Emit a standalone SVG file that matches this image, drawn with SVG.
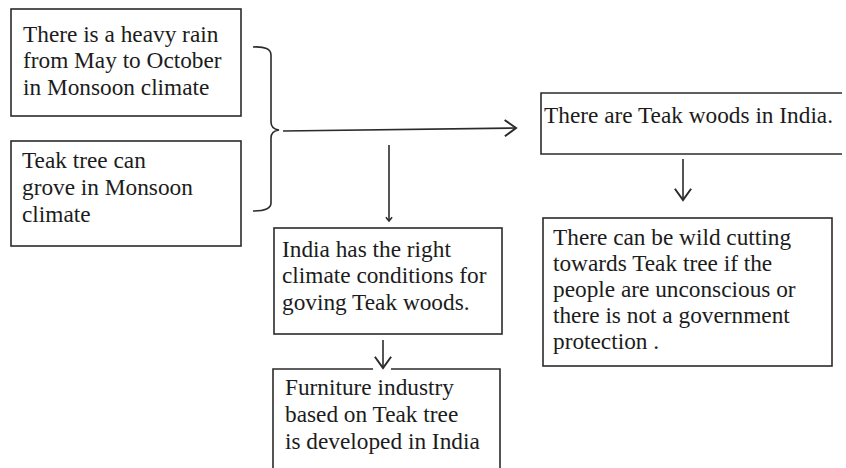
<svg xmlns="http://www.w3.org/2000/svg" width="846" height="468" viewBox="0 0 846 468">
<style>
.box{fill:#fff;stroke:#2b2b2b;stroke-width:1.6}
text{font-family:'Liberation Serif','Tinos','Times New Roman','DejaVu Serif',serif;font-size:23.3px;fill:#1c1c1c}
.c{fill:none;stroke:#2b2b2b;stroke-width:1.6}
</style>
<defs>
<marker id="ah" markerUnits="userSpaceOnUse" markerWidth="20" markerHeight="20" refX="0" refY="0" viewBox="-12 -8 14 16" orient="auto" overflow="visible">
<path d="M-9,-6.5 L0,0 L-9,6.5" fill="none" stroke="#2b2b2b" stroke-width="1.6"/>
</marker>
<marker id="ahs" markerUnits="userSpaceOnUse" markerWidth="10" markerHeight="10" refX="0" refY="0" viewBox="-6 -4 7 8" orient="auto" overflow="visible">
<path d="M-3,-2.5 L0,0 L-3,2.5" fill="none" stroke="#2b2b2b" stroke-width="1.2"/>
</marker>
</defs>
<rect width="846" height="468" fill="#fff"/>
<g id="n1" font-family="Liberation Serif, serif">
<rect class="box" x="11" y="9" width="230" height="107"/>
<text x="23" y="42">There is a heavy rain</text>
<text x="23" y="68">from May to October</text>
<text x="23" y="95">in Monsoon climate</text>
</g>
<g id="n2">
<rect class="box" x="11" y="141" width="230" height="105"/>
<text x="22" y="168">Teak tree can</text>
<text x="22" y="195">grove in Monsoon</text>
<text x="22" y="222">climate</text>
</g>
<g id="n3">
<path class="box" d="M842,93 H541 V154 H842"/>
<text x="544" y="123">There are Teak woods in India.</text>
</g>
<g id="n4">
<rect class="box" x="274" y="228" width="228" height="106"/>
<text x="282" y="257">India has the right</text>
<text x="282" y="283">climate conditions for</text>
<text x="282" y="310">goving Teak woods.</text>
</g>
<g id="n5">
<path class="c" d="M273,469 V369 H373 M391,369 H500 V469"/>
<text x="285" y="395">Furniture industry</text>
<text x="285" y="422">based on Teak tree</text>
<text x="285" y="449">is developed in India</text>
</g>
<g id="n6">
<rect class="box" x="543" y="218" width="289" height="148"/>
<text x="553" y="245">There can be wild cutting</text>
<text x="553" y="271">towards Teak tree if the</text>
<text x="553" y="297">people are unconscious or</text>
<text x="553" y="323">there is not a government</text>
<text x="553" y="349">protection .</text>
</g>
<g id="connectors">
<path class="c" d="M253,47 Q271,46 271,55 V122 Q271,129 279,130 Q271,131 271,138 V203 Q271,211 253,211"/>
<line class="c" x1="283" y1="131" x2="516" y2="128" marker-end="url(#ah)"/>
<line class="c" x1="389" y1="145" x2="389" y2="221" marker-end="url(#ahs)"/>
<line class="c" x1="383" y1="340" x2="383" y2="368" marker-end="url(#ah)"/>
<line class="c" x1="683" y1="159" x2="683" y2="200" marker-end="url(#ah)"/>
</g>
</svg>
